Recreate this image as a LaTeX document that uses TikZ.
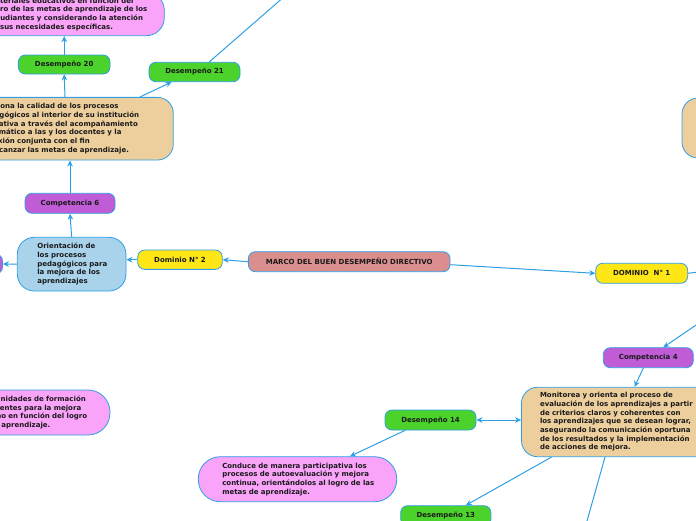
\documentclass[tikz,border=0pt]{standalone}
\usepackage{fontspec}
\setmainfont{DejaVu Sans}
\usetikzlibrary{arrows.meta}
\definecolor{lineblue}{HTML}{2E9FE6}
\definecolor{greenc}{HTML}{4CD32B}
\definecolor{yellowc}{HTML}{FFE617}
\definecolor{purplec}{HTML}{BF5CD6}
\definecolor{pinkc}{HTML}{F9A3F9}
\definecolor{tanc}{HTML}{EDCF9D}
\definecolor{bluec}{HTML}{A8D3EA}
\definecolor{marcoc}{HTML}{DB8E8E}
\definecolor{ink}{HTML}{1A1A1A}
\tikzset{
  conn/.style={draw=lineblue, line width=1pt, -{Stealth[length=6pt,width=5.6pt]}},
  both/.style={draw=lineblue, line width=1pt, {Stealth[length=6pt,width=5.6pt]}-{Stealth[length=6pt,width=5.6pt]}},
  plain/.style={draw=lineblue, line width=1pt},
  pill/.style={draw=lineblue, line width=0.8pt, rounded corners=7pt, inner sep=0pt,
    minimum height=20pt, font=\bfseries\fontsize{7pt}{8.67pt}\selectfont, text=ink},
  box/.style={draw=lineblue, line width=0.8pt, rounded corners=16pt, inner ysep=0pt,
    align=left, font=\bfseries\fontsize{7pt}{8.67pt}\selectfont, text=ink},
}
\begin{document}
\begin{tikzpicture}[x=1pt,y=-1pt]
\useasboundingbox (0,0) rectangle (696,520);
\clip (0,0) rectangle (696,520);

% big boxes
\node[box, fill=pinkc, rounded corners=18pt, text width=156.3pt, inner xsep=20pt, minimum height=43.4pt] (pinkT) at (66.15,14)
 {\mbox{materiales educativos en función del}\\\mbox{logro de las metas de aprendizaje de los}\\\mbox{estudiantes y considerando la atención}\\\mbox{de sus necesidades específicas.}};
\node[box, fill=tanc, text width=173.3pt, inner xsep=20pt, minimum height=62.7pt] (tanL) at (66.65,128.7)
 {\mbox{Gestiona la calidad de los procesos}\\\mbox{pedagógicos al interior de su institución}\\\mbox{educativa a través del acompañamiento}\\\mbox{sistemático a las y los docentes y la}\\\mbox{reflexión conjunta con el fin}\\\mbox{de alcanzar las metas de aprendizaje.}};
\node[box, fill=bluec, rounded corners=17pt, text width=68.7pt, inner xsep=20pt, minimum height=53.7pt] (orient) at (71.65,264.15)
 {\mbox{Orientación de}\\\mbox{los procesos}\\\mbox{pedagógicos para}\\\mbox{la mejora de los}\\\mbox{aprendizajes}};
\node[box, fill=pinkc, rounded corners=22pt, text width=153pt, inner xsep=20pt, minimum height=45pt] (pinkB) at (13.5,412.5)
 {\mbox{Gestiona oportunidades de formación}\\\mbox{continua de docentes para la mejora}\\\mbox{de su desempeño en función del logro}\\\mbox{de las metas de aprendizaje.}};
\node[box, fill=tanc, text width=170pt, inner xsep=18.5pt, minimum height=69.4pt] (monitor) at (625,422)
 {\mbox{Monitorea y orienta el proceso de}\\\mbox{evaluación de los aprendizajes a partir}\\\mbox{de criterios claros y coherentes con}\\\mbox{los aprendizajes que se desean lograr,}\\\mbox{asegurando la comunicación oportuna}\\\mbox{de los resultados y la implementación}\\\mbox{de acciones de mejora.}};
\node[box, fill=pinkc, rounded corners=22pt, text width=150.4pt, inner xsep=24pt, minimum height=45pt] (conduce) at (297.5,479.2)
 {\mbox{Conduce de manera participativa los}\\\mbox{procesos de autoevaluación y mejora}\\\mbox{continua, orientándolos al logro de las}\\\mbox{metas de aprendizaje.}};
\node[box, fill=tanc, inner xsep=0pt, minimum width=200pt, minimum height=60pt] (tanR) at (782,128) {};

% small nodes
\node[pill, fill=greenc, minimum width=91.7pt, minimum height=19pt] (des20) at (64.2,64.5) {Desempeño 20};
\node[pill, fill=greenc, minimum width=91pt, minimum height=19.4pt] (des21) at (194.5,72) {Desempeño 21};
\node[pill, fill=purplec, minimum width=90pt] (comp6) at (70,203.3) {Competencia 6};
\node[pill, fill=yellowc, minimum width=84.6pt, minimum height=19.3pt] (dom2) at (180,259.7) {Dominio N° 2};
\node[pill, fill=marcoc, minimum width=201.7pt] (marco) at (349.2,261.7) {MARCO DEL BUEN DESEMPEÑO DIRECTIVO};
\node[pill, fill=yellowc, minimum width=92pt] (dom1) at (641.7,273.3) {DOMINIO~~N° 1};
\node[pill, fill=purplec, minimum width=90pt] (comp4) at (648.3,357.7) {Competencia 4};
\node[pill, fill=greenc, minimum width=91pt] (des14) at (430.5,420) {Desempeño 14};
\node[pill, fill=greenc, minimum width=90.3pt] (des13) at (445.8,515.7) {Desempeño 13};
\node[pill, fill=purplec, minimum width=90pt] (offL) at (-42.5,264) {};

% connectors
\draw[conn] (marco.west) -- (dom2.east);
\draw[conn] ([yshift=-3pt]marco.east) -- (dom1.west);
\draw[conn] (dom2.west) -- (orient.east |- dom2.west);
\draw[conn] (orient.west) -- (offL.east);
\draw[conn] (orient.north) -- (comp6.south);
\draw[conn] (comp6.north) -- (comp6.north |- tanL.south);
\draw[conn] ([xshift=-1.65pt]tanL.north) -- (des20.south);
\draw[conn] ([xshift=73.35pt]tanL.north) -- ([xshift=-23pt]des21.south);
\draw[conn] (des20.north) -- (des20.north |- pinkT.south);
\coordinate (off21) at (294.1,-12);
\draw[plain] ([xshift=14.8pt]des21.north) -- (off21);
\coordinate (offR1) at (704,271.2);
\draw[plain] (dom1.east) -- (offR1);
\coordinate (offR2) at (704,319.7);
\draw[conn] (offR2) -- ([xshift=15pt]comp4.north);
\draw[conn] ([xshift=-5pt]comp4.south) -- ([xshift=9.5pt]monitor.north);
\draw[both] (des14.east) -- (des14.east -| monitor.west);
\draw[conn] ([xshift=-25.5pt]des14.south) -- ([xshift=52.5pt]conduce.north);
\draw[conn] ([xshift=-73.5pt]monitor.south) -- ([xshift=20pt]des13.north);
\coordinate (offB) at (585.6,526);
\draw[plain] ([xshift=-20pt]monitor.south) -- (offB);
\end{tikzpicture}
\end{document}
